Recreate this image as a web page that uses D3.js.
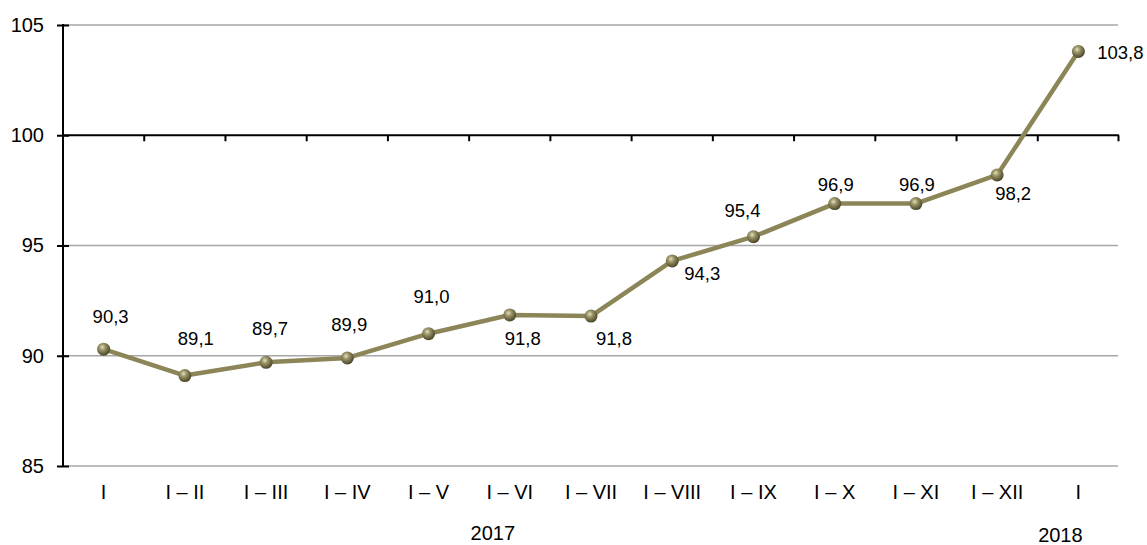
<!DOCTYPE html>
<html><head><meta charset="utf-8">
<script src="https://cdn.jsdelivr.net/npm/d3@7"></script>
<style>body{margin:0;background:#fff}svg{display:block;font-family:"Liberation Sans",Arial,sans-serif}</style>
</head><body>
<svg id="c" width="1147" height="545"></svg>
<script>
const categories = ["I","I – II","I – III","I – IV","I – V","I – VI","I – VII","I – VIII","I – IX","I – X","I – XI","I – XII","I"];
const values = [90.3, 89.1, 89.7, 89.9, 91.0, 91.85, 91.8, 94.3, 95.4, 96.9, 96.9, 98.2, 103.8];
const labels = ["90,3","89,1","89,7","89,9","91,0","91,8","91,8","94,3","95,4","96,9","96,9","98,2","103,8"];
// label offset from its point (dx, baseline dy), in px
const labelOffsets = [[7,-26],[11,-31],[4,-27],[2,-27],[3,-31],[13,30],[23,29],[30,19],[-11,-20],[1,-13],[1,-13],[16,25],[42,8]];
const yTicks = [85, 90, 95, 100, 105];
const years = ["2017", "2018"];
const yearAt = [5, 12];          // category index the year label is placed near
const yearShift = [[-17,540],[-18,542]];

(function(){
const svg = d3.select("#c");
const mL = 63, mR = 1119, mT = 25, mB = 466;
const x = d3.scaleBand().domain(d3.range(categories.length)).range([mL, mR]);
const y = d3.scaleLinear().domain([85, 105]).range([mB, mT]);
const cx = i => x(i)+x.bandwidth()/2;

const defs = svg.append("defs");
const g = defs.append("radialGradient").attr("id","ball").attr("cx","40%").attr("cy","35%").attr("r","65%");
g.append("stop").attr("offset","0%").attr("stop-color","#e4e0bc");
g.append("stop").attr("offset","35%").attr("stop-color","#9c966a");
g.append("stop").attr("offset","100%").attr("stop-color","#4a4526");

// gridlines
svg.append("g").selectAll("line").data(yTicks.filter(d=>d!==100)).join("line")
  .attr("x1", mL).attr("x2", mR-1).attr("y1", d=>y(d)).attr("y2", d=>y(d))
  .attr("stroke","#a6a6a6").attr("stroke-width",1.5);

// y axis
const yAxis = d3.axisLeft(y).tickValues(yTicks).tickSize(6).tickPadding(13).tickFormat(d3.format("d"));
const ya = svg.append("g").attr("transform",`translate(${mL},0)`).call(yAxis);
ya.select(".domain").remove();
ya.selectAll(".tick line").attr("x1",-6).attr("x2",6).attr("stroke","#000").attr("stroke-width",2);
ya.selectAll(".tick text").attr("font-size",20).attr("fill","#000").attr("font-family","Liberation Sans, Arial");
svg.append("line").attr("x1",mL).attr("x2",mL).attr("y1",mT-1).attr("y2",mB+1).attr("stroke","#000").attr("stroke-width",2);

// x axis at 100
const xa = svg.append("g").attr("transform",`translate(0,${y(100)})`);
xa.append("line").attr("x1",mL).attr("x2",mR).attr("stroke","#000").attr("stroke-width",2);
xa.selectAll("line.t").data(d3.range(1, categories.length+1)).join("line").attr("class","t")
  .attr("x1", i=> i<categories.length ? x(i) : mR-0.5).attr("x2", i=> i<categories.length ? x(i) : mR-0.5)
  .attr("y1",0).attr("y2",6).attr("stroke","#000").attr("stroke-width",2);

// category labels
svg.append("g").selectAll("text").data(categories).join("text")
  .attr("x",(d,i)=>cx(i)).attr("y", mB+33)
  .attr("text-anchor","middle").attr("font-size",20).text(d=>d);

// years
svg.append("g").selectAll("text").data(years).join("text")
  .attr("x", (d,i)=>cx(yearAt[i]) + yearShift[i][0])
  .attr("y", (d,i)=>yearShift[i][1])
  .attr("text-anchor","middle").attr("font-size",20).text(d=>d);

// line
svg.append("path").datum(values)
  .attr("d", d3.line().x((d,i)=>cx(i)).y(d=>y(d)))
  .attr("fill","none").attr("stroke","#8c8557").attr("stroke-width",4.5).attr("stroke-linejoin","round");

svg.append("g").selectAll("circle").data(values).join("circle")
  .attr("cx",(d,i)=>cx(i)).attr("cy",d=>y(d)).attr("r",6.5).attr("fill","url(#ball)");

// data labels
svg.append("g").selectAll("text").data(values).join("text")
  .attr("x",(d,i)=>cx(i)+labelOffsets[i][0])
  .attr("y",(d,i)=>y(d)+labelOffsets[i][1])
  .attr("text-anchor","middle").attr("font-size",18.5).text((d,i)=>labels[i]);
})();
</script>
</body></html>
